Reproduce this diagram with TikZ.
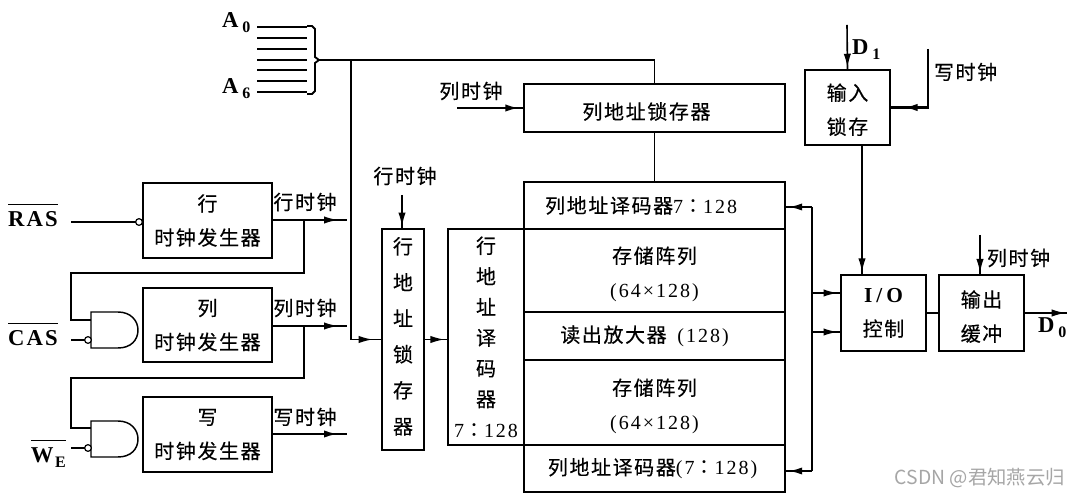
\documentclass[tikz,border=0pt]{standalone}
\usepackage{fontspec}
\setmainfont{Liberation Serif}
\newfontfamily\cjk[LetterSpace=8,FakeBold=0.35]{Noto Sans CJK SC}
\newfontfamily\cjkcolon{Noto Sans CJK TC}
\newfontfamily\lat[LetterSpace=10]{Liberation Serif}
\newfontfamily\wmfont{Noto Sans CJK SC}
\usetikzlibrary{arrows.meta,decorations.markings}
\newcommand{\ratio}{{\cjkcolon ：}}
\newcommand{\sbs}[1]{\kern3pt\raisebox{-3.5pt}{\fontsize{12}{12}\selectfont #1}}
\newcommand{\ovl}[1]{$\overline{\rule{0pt}{15.5pt}\hbox{#1}}$}
\tikzset{
  x=0.75pt,y=-0.75pt,
  bx/.style 2 args={draw,line width=1.4pt,minimum width=#1*0.75pt,minimum height=#2*0.75pt,inner sep=0pt,outer sep=0pt,align=center,font=\cjk\fontsize{15}{25.5}\selectfont},
  txt/.style={inner sep=0pt,outer sep=0pt,font=\cjk\fontsize{15}{18}\selectfont},
  ltr/.style={inner sep=0pt,outer sep=0pt,font=\lat\bfseries\fontsize{17}{18}\selectfont},
  wire/.style={line width=1.2pt,line join=miter},
  thk/.style={line width=1.7pt},
  tipat/.style={decoration={markings,mark=at position #1 with {\arrow{Latex[length=10.5pt,width=5.5pt]}}},postaction={decorate}},
  bub/.style={draw,circle,line width=0.9pt,fill=white,minimum size=5pt,inner sep=0pt,outer sep=0pt},
  gate/.style={line width=1.1pt,fill=white}
}
\begin{document}
\begin{tikzpicture}
\path[use as bounding box,fill=white] (0,0) rectangle (1078,498);

% address inputs
\node[ltr,anchor=base west] (a0) at (222,28) {A\sbs{0}};
\node[ltr,anchor=base west] (a6) at (222,94) {A\sbs{6}};
\coordinate (tip) at (319,60);
\foreach \yy in {27,70,81,92} \draw[thk] (257,\yy) -- (307,\yy);
\foreach \yy in {38,49,60} \draw[wire] (257,\yy) -- (307,\yy);
\draw[wire,line width=1.4pt] (307,26) -- (312,26) -- (315,29) -- (315,57) -- (tip) -- (315,63) -- (315,91) -- (312,94) -- (307,94);

% clock generators
\node[bx={129}{75}] (rowgen) at (207.5,220.5) {行\\时钟发生器};
\node[bx={129}{74}] (colgen) at (207.5,325) {列\\时钟发生器};
\node[bx={129}{75}] (wrgen) at (207.5,434.5) {写\\时钟发生器};

% row latch and decoder
\node[bx={42}{221},font=\cjk\fontsize{15}{27}\selectfont] (latch) at (403,339.5) {行\\地\\址\\锁\\存\\器\rule[-6pt]{0pt}{0pt}};
\node[bx={76}{216},font=\cjk\fontsize{15}{23}\selectfont] (rowdec) at (486,337) {行\\地\\址\\译\\码\\器\\{\lat 7\ratio 128}};

% memory block
\node[bx={261}{48}] (collatch) at (654.5,108) {\rule{0pt}{18pt}列地址锁存器\hspace{12pt}};
\node[bx={261}{47}] (coldectop) at (654.5,205.5) {列地址译码器{\lat 7\ratio 128}\hspace{20pt}};
\node[bx={261}{83}] (arr1) at (654.5,270.5) {\rule{0pt}{18pt}存储阵列\\{\lat (64×128)}};
\node[bx={261}{48}] (sense) at (654.5,336) {读出放大器\kern8pt{\lat (128)}\hspace{15pt}};
\node[bx={261}{85}] (arr2) at (654.5,402.5) {\rule{0pt}{18pt}存储阵列\\{\lat (64×128)}};
\node[bx={261}{47}] (coldecbot) at (654.5,468.5) {列地址译码器{\lat (7\ratio 128)}\hspace{3pt}};

% I/O
\node[bx={85}{75}] (inlatch) at (847.5,107.5) {\rule{0pt}{16pt}输入\\锁存};
\node[bx={85}{76}] (io) at (883.5,313) {{\lat\bfseries\fontsize{16}{18}\selectfont I\kern3pt/\kern3pt O}\\控制};
\node[bx={85}{76}] (outbuf) at (981.5,313) {\rule{0pt}{18pt}输出\\缓冲};

% gates
\draw[gate] (91,312) -- (118,312) .. controls (131,312) and (138,321) .. (138,330) .. controls (138,340) and (131,348) .. (118,348) -- (91,348) -- cycle;
\draw[gate] (91,421) -- (118,421) .. controls (131,421) and (138,430) .. (138,439) .. controls (138,449) and (131,457) .. (118,457) -- (91,457) -- cycle;

% signal labels
\node[ltr,anchor=base west] (ras) at (8,227) {\ovl{RAS}};
\node[ltr,anchor=base west] (cas) at (8,346) {\ovl{CAS}};
\node[ltr,anchor=base west] (we) at (31,463) {\ovl{W\kern-2pt\sbs{E}}};
\node[bub] (b0) at (139,222) {};
\node[bub] (b1) at (88,340) {};
\node[bub] (b2) at (88,448) {};
\draw[thk] (71,222) -- (b0);
\draw[wire] (71,340) -- (b1);
\draw[wire] (71,448) -- (b2);

% clock outputs and feedback
\coordinate (r1) at (347,220);
\coordinate (c1) at (347,326);
\coordinate (w1) at (347,434);
\draw[wire,tipat=0.88] (rowgen.east |- r1) -- (r1);
\draw[wire,tipat=0.88] (colgen.east |- c1) -- (c1);
\draw[thk,tipat=0.88] (wrgen.east |- w1) -- (w1);
\draw[wire] (304,220) -- (304,273) -- (71,273) -- (71,320) -- (91,320);
\draw[wire] (304,326) -- (304,378) -- (71,378) -- (71,428) -- (91,428);
\node[txt] (l1) at (305,202) {行时钟};
\node[txt] (l2) at (305,308) {列时钟};
\node[txt] (l3) at (305,417) {写时钟};

% address bus
\coordinate (br) at (351,60);
\draw[wire] (tip) -- (collatch.north |- tip) -- (collatch.north);
\draw[wire,tipat=0.97] (br) |- (latch.west);
\draw[wire,tipat=0.85] (latch.east) -- (rowdec.west |- latch.east);
\draw[wire] (collatch.south) -- (coldectop.north);

% row clock above latch, column clock at column latch
\node[txt] (l4) at (405,176) {行时钟};
\coordinate (rc) at (402,195);
\draw[wire,tipat=0.93] (rc) -- (rc |- latch.north);
\node[txt] (l5) at (471,91) {列时钟};
\coordinate (cc) at (457,108);
\draw[thk,tipat=0.93] (cc) -- (collatch.west);

% data input
\coordinate (d1) at (847,25);
\node[ltr,anchor=base west] (dl) at (852,55) {D\sbs{1}};
\draw[wire,tipat=0.95] (d1) -- (inlatch.north);
\coordinate (wc) at (928,49);
\draw[thk,tipat=0.86] (wc) |- (inlatch.east);
\node[txt,anchor=west] (l6) at (934,72) {写时钟};
\coordinate (il) at (862,145);
\draw[wire,tipat=0.98] (il) -- (il |- io.north);

% bus to I/O
\coordinate (bt) at (812,207);
\coordinate (bb) at (812,471);
\coordinate (i1) at (841,293);
\coordinate (i2) at (841,332);
\draw[thk] (bt) -- (bb);
\draw[thk,tipat=0.88] (bt) -- (coldectop.east |- bt);
\draw[thk,tipat=0.88] (bb) -- (coldecbot.east |- bb);
\draw[wire,tipat=0.88] (bt |- i1) -- (i1);
\draw[wire,tipat=0.88] (bt |- i2) -- (i2);

% output
\draw[wire] (io.east) -- (outbuf.west);
\coordinate (oc) at (980,235);
\draw[wire,tipat=0.95] (oc) -- (oc |- outbuf.north);
\node[txt,anchor=west] (l7) at (987,258) {列时钟};
\coordinate (d0) at (1067,313);
\draw[wire,tipat=0.97] (outbuf.east) -- (d0);
\node[ltr,anchor=base west] (dz) at (1038,333) {D\sbs{0}};

% watermark
\node[inner sep=0pt,text=black!35,font=\wmfont\fontsize{14.5}{16}\selectfont,anchor=east] (wm) at (1065,478) {CSDN @君知燕云归};
\end{tikzpicture}
\end{document}
